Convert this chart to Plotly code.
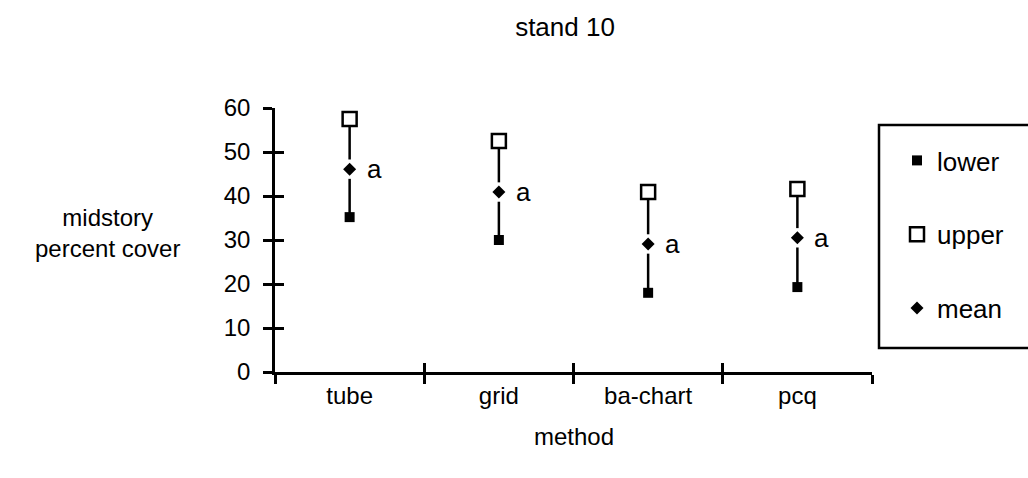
import plotly.graph_objects as go

methods = ["tube", "grid", "ba-chart", "pcq"]
lower = [35.2, 30.0, 18.0, 19.3]
upper = [57.5, 52.5, 40.9, 41.6]
mean = [46.1, 40.9, 29.1, 30.5]
letters = ["a", "a", "a", "a"]
y_ticks = [0, 10, 20, 30, 40, 50, 60]

FONT = "Liberation Sans, Arial, Helvetica, sans-serif"
TICK_SIZE = 24
GAP = 2.2  # white gap (data units) between whisker and mean marker

fig = go.Figure()

# whiskers: upper -> (gap) mean (gap) -> lower
wx, wy = [], []
for m, lo, up, mu in zip(methods, lower, upper, mean):
    wx += [m, m, None, m, m, None]
    wy += [up, mu + GAP, None, mu - GAP, lo, None]
fig.add_trace(go.Scatter(
    x=wx, y=wy, mode="lines", line=dict(color="black", width=2.5),
    connectgaps=False, showlegend=False, hoverinfo="skip"))

fig.add_trace(go.Scatter(
    x=methods, y=lower, mode="markers", name="lower", legendgroup="l",
    marker=dict(symbol="square", size=10, color="black")))
fig.add_trace(go.Scatter(
    x=methods, y=upper, mode="markers", name="upper", legendgroup="u",
    marker=dict(symbol="square", size=14, color="white",
                line=dict(color="black", width=2.5))))
fig.add_trace(go.Scatter(
    x=methods, y=mean, mode="markers", name="mean", legendgroup="m",
    marker=dict(symbol="diamond", size=10, color="black")))

for m, v, t in zip(methods, mean, letters):
    fig.add_annotation(x=m, y=v, text=t, showarrow=False, xanchor="left",
                       xshift=15, font=dict(size=26, family=FONT, color="black"))

fig.add_annotation(x=(107 - 275) / 597, y=0.527, xref="paper", yref="paper",
                   xanchor="center", yanchor="middle",
                   text="midstory<br>percent cover", showarrow=False,
                   font=dict(size=24, family=FONT, color="black"), align="center")
fig.add_annotation(x=0.5, y=(372 - 436) / 264, xref="paper", yref="paper",
                   xanchor="center", yanchor="middle", text="method",
                   showarrow=False, font=dict(size=24, family=FONT, color="black"))

# legend frame (extends beyond right edge as in reference)
fig.add_shape(type="rect", xref="paper", yref="paper",
              x0=(879 - 275) / 597, x1=1.35, y0=(372 - 348) / 264, y1=(372 - 125) / 264,
              line=dict(color="black", width=2.5), fillcolor="rgba(0,0,0,0)")

axis_common = dict(showgrid=False, zeroline=False, linecolor="black",
                   linewidth=2.5, tickcolor="black", tickwidth=2.5)

fig.update_layout(
    width=1028, height=478,
    margin=dict(l=275, r=156, t=108, b=106),
    paper_bgcolor="white", plot_bgcolor="white",
    font=dict(family=FONT, size=TICK_SIZE, color="black"),
    title=dict(text="stand 10", x=565 / 1028, xanchor="center", y=1 - 27 / 478,
               yanchor="middle", font=dict(size=26, family=FONT, color="black")),
    xaxis=dict(type="category", categoryarray=methods, range=[-0.5, 3.5],
               ticks="outside", ticklen=9, tickson="boundaries",
               showline=True, tickfont=dict(size=TICK_SIZE), **axis_common),
    xaxis2=dict(type="category", categoryarray=methods, range=[-0.5, 3.5],
                overlaying="x", side="bottom", ticks="inside", ticklen=9,
                tickson="boundaries", showticklabels=False, showline=False,
                showgrid=False, zeroline=False, tickcolor="black", tickwidth=2.5,
                anchor="y"),
    yaxis=dict(range=[0, 60], tickvals=y_ticks, ticks="outside", ticklen=9,
               ticklabelstandoff=8,
               showline=True, tickfont=dict(size=TICK_SIZE), **axis_common),
    yaxis2=dict(range=[0, 60], tickvals=y_ticks, overlaying="y", side="left",
                ticks="inside", ticklen=9, showticklabels=False, showline=False,
                showgrid=False, zeroline=False, tickcolor="black", tickwidth=2.5,
                anchor="x"),
    legend=dict(x=(897 - 275) / 597, xanchor="left", y=(372 - 137) / 264, yanchor="top",
                bgcolor="rgba(0,0,0,0)", borderwidth=0, tracegroupgap=37,
                font=dict(size=26, family=FONT, color="black")),
    showlegend=True,
)

# invisible trace to activate overlay axes
fig.add_trace(go.Scatter(x=methods, y=mean, xaxis="x2", yaxis="y2", mode="markers",
                         marker=dict(opacity=0, size=1), showlegend=False,
                         hoverinfo="skip"))

fig.write_html("out.html", config={"displayModeBar": False},
               post_script="document.body.style.margin='0px';")
